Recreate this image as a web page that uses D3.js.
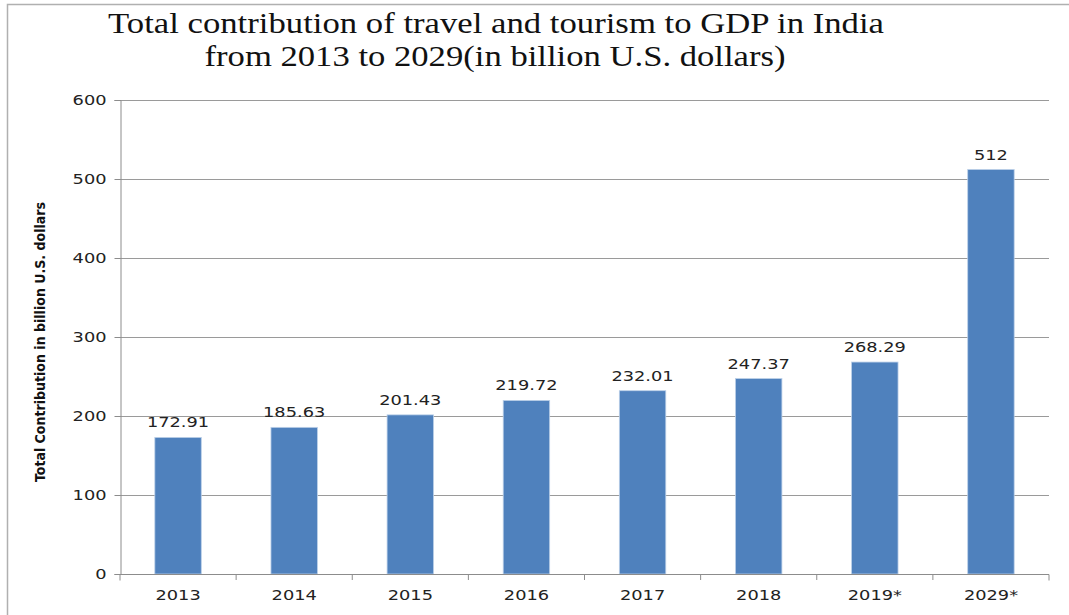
<!DOCTYPE html>
<html>
<head>
<meta charset="utf-8">
<script src="https://cdn.jsdelivr.net/npm/d3@7"></script>
<style>
  body { margin: 0; background: #fff; }
  svg { display: block; }
</style>
</head>
<body>
<svg id="chart" width="1069" height="615"></svg>
<script>
const years = ['2013', '2014', '2015', '2016', '2017', '2018', '2019*', '2029*'];
const values = [172.91, 185.63, 201.43, 219.72, 232.01, 247.37, 268.29, 512];
const valueLabels = ['172.91', '185.63', '201.43', '219.72', '232.01', '247.37', '268.29', '512'];
const yTicks = [0, 100, 200, 300, 400, 500, 600];

const svg = d3.select('#chart');
const margin = { top: 100, right: 20, bottom: 41, left: 120 };
const width = 1069 - margin.left - margin.right;
const height = 615 - margin.top - margin.bottom;
const FONT = '"DejaVu Sans", Verdana, sans-serif';
const STRETCH = 1.27; // the source picture is stretched sideways

// widen glyphs horizontally, keeping the anchor point
function widen(sel) {
  sel.each(function () {
    const w = this.getComputedTextLength();
    d3.select(this)
      .attr('textLength', w * STRETCH)
      .attr('lengthAdjust', 'spacingAndGlyphs');
  });
}

// outer frame (only top and left edges are visible in the picture)
svg.append('rect')
  .attr('x', 7.5).attr('y', 4.5)
  .attr('width', 1200).attr('height', 800)
  .attr('fill', 'none')
  .attr('stroke', '#b0b0b0')
  .attr('stroke-width', 1.5);

const title = svg.append('text')
  .attr('font-family', '"Liberation Serif", "Times New Roman", serif')
  .attr('font-size', 29)
  .attr('fill', '#111')
  .attr('text-anchor', 'middle');
title.append('tspan').attr('x', 496).attr('y', 33)
  .attr('textLength', 776).attr('lengthAdjust', 'spacingAndGlyphs')
  .text('Total contribution of travel and  tourism to GDP in India');
title.append('tspan').attr('x', 495).attr('y', 66)
  .attr('textLength', 581).attr('lengthAdjust', 'spacingAndGlyphs')
  .text('from 2013 to 2029(in billion U.S.  dollars)');

const g = svg.append('g').attr('transform', `translate(${margin.left},${margin.top})`);

const x = d3.scaleBand().domain(years).range([0, width]).paddingInner(0.6).paddingOuter(0.3);
const y = d3.scaleLinear().domain([0, 600]).range([height, 0]);

// gridlines
g.append('g')
  .selectAll('line')
  .data(yTicks.filter((d) => d > 0))
  .enter()
  .append('line')
  .attr('x1', 0).attr('x2', width)
  .attr('y1', (d) => y(d) + 0.5).attr('y2', (d) => y(d) + 0.5)
  .attr('stroke', '#9a9a9a')
  .attr('stroke-width', 1);

// bars
g.append('g')
  .selectAll('rect')
  .data(values)
  .enter()
  .append('rect')
  .attr('x', (d, i) => x(years[i]))
  .attr('y', (d) => y(d))
  .attr('width', x.bandwidth())
  .attr('height', (d) => height - y(d))
  .attr('fill', '#4f81bd')
  .attr('stroke', '#bcd0e8')
  .attr('stroke-width', 0.8);

// value labels
g.append('g')
  .selectAll('text')
  .data(values)
  .enter()
  .append('text')
  .attr('x', (d, i) => x(years[i]) + x.bandwidth() / 2)
  .attr('y', (d) => y(d) - 10)
  .attr('text-anchor', 'middle')
  .attr('font-family', FONT)
  .attr('font-size', 14)
  .attr('fill', '#222')
  .text((d, i) => valueLabels[i])
  .call(widen);

// y axis
const yAxis = g.append('g')
  .attr('transform', 'translate(0.5,0)')
  .call(d3.axisLeft(y).tickValues(yTicks).tickSize(6).tickPadding(8));
yAxis.selectAll('line, path').attr('stroke', '#8c8c8c');
yAxis.selectAll('text')
  .attr('font-family', FONT)
  .attr('font-size', 14)
  .attr('fill', '#222')
  .call(widen);

// x axis
const xAxis = g.append('g')
  .attr('transform', `translate(0,${height + 0.5})`)
  .call(d3.axisBottom(x).tickSize(0).tickPadding(16));
xAxis.select('path').attr('stroke', '#8c8c8c').attr('d', `M0,6V0H${width}V6`);
xAxis.selectAll('text')
  .attr('font-family', FONT)
  .attr('font-size', 14)
  .attr('fill', '#222')
  .call(widen);

// category boundary ticks
g.append('g')
  .selectAll('line')
  .data(years.slice(1))
  .enter()
  .append('line')
  .attr('x1', (d) => x(d) - x.step() * x.paddingInner() / 2)
  .attr('x2', (d) => x(d) - x.step() * x.paddingInner() / 2)
  .attr('y1', height).attr('y2', height + 6)
  .attr('stroke', '#8c8c8c');

// y axis title
svg.append('text')
  .attr('transform', 'translate(45,342) rotate(-90)')
  .attr('text-anchor', 'middle')
  .attr('font-family', '"DejaVu Sans Condensed", "DejaVu Sans", sans-serif')
  .attr('font-weight', 'bold')
  .attr('font-size', 14)
  .attr('fill', '#111')
  .attr('textLength', 280)
  .attr('lengthAdjust', 'spacingAndGlyphs')
  .text('Total Contribution in billion U.S. dollars');
</script>
</body>
</html>
